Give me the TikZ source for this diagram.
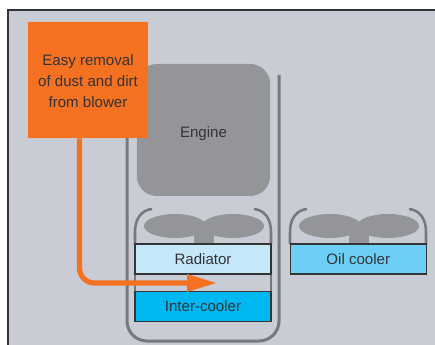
\documentclass[tikz,border=0pt]{standalone}
\usepackage{fontspec}
\setmainfont{Liberation Sans}
\definecolor{bgc}{HTML}{C9CCD5}
\definecolor{darkc}{HTML}{77787B}
\definecolor{enginec}{HTML}{939598}
\definecolor{orangec}{HTML}{F47122}
\definecolor{radc}{HTML}{C5E8F9}
\definecolor{interc}{HTML}{00B8F1}
\definecolor{oilc}{HTML}{6DCFF6}
\definecolor{inkc}{HTML}{333338}
\begin{document}
\begin{tikzpicture}[x=0.75pt,y=-0.75pt,
  lbl/.style={text=inkc,font=\fontsize{11.3}{15.75}\selectfont,align=center,inner sep=0pt},
  cooler/.style={lbl,draw=inkc,line width=1pt,minimum height=22.5pt,minimum width=102pt},
  wall/.style={draw=darkc,line width=2.25pt},
  shroud/.style={draw=darkc,line width=1.9pt},
  fan/.style={fill=enginec,draw=none}]
\useasboundingbox (0,0) rectangle (435,345);
\fill[white] (0,0) rectangle (435,345);
\fill[bgc] (8,10) rectangle (435,345);
\draw[inkc,line width=1.2pt] (8,345) -- (8,10) -- (435,10);
% engine
\node[lbl,fill=enginec,rounded corners=15pt,minimum width=100pt,minimum height=99pt] (engine) at (203.5,130) {\raisebox{-5.5pt}[0pt][0pt]{Engine}};
% outer duct
\coordinate (ductL) at (127,75);
\coordinate (ductR) at (279,75);
\draw[wall] (ductL) -- (127,321) arc[start angle=180,end angle=90,radius=20] -- (259,341) arc[start angle=90,end angle=0,radius=20] -- (ductR);
% shrouds and fans
\foreach \x in {0,155}{
  \draw[shroud] (\x+152,209) .. controls (\x+142,210) and (\x+135,218) .. (\x+135,232) -- (\x+135,244);
  \draw[shroud] (\x+254,209) .. controls (\x+264,210) and (\x+271,218) .. (\x+271,232) -- (\x+271,244);
  \fill[fan] (\x+194,226) rectangle (\x+214,245);
  \fill[fan] (\x+175,226) ellipse[x radius=31,y radius=12];
  \fill[fan] (\x+233,226) ellipse[x radius=31,y radius=12];
}
\draw[shroud] (135,244) -- (135,292);
\draw[shroud] (271,244) -- (271,292);
% coolers
\node[cooler,fill=radc] (radiator) at (203,259) {Radiator};
\node[cooler,fill=interc] (inter) at (203,306.5) {Inter-cooler};
\node[cooler,fill=oilc] (oil) at (358.3,259) {Oil cooler};
% callout
\node[lbl,fill=orangec,minimum width=90pt,minimum height=87pt] (note) at (88,80) {\rule{0pt}{10.5pt}Easy removal\\of dust and dirt\\from blower};
% arrow
\coordinate (tip) at (216,283);
\coordinate (neck) at (187,283);
\draw[orangec,line width=3.9pt] (note.south -| 79.5,0) -- (79.5,268) arc[start angle=180,end angle=90,radius=15] -- (neck);
\fill[orangec] (187,274) -- (tip) -- (187,292) -- cycle;
\end{tikzpicture}
\end{document}
